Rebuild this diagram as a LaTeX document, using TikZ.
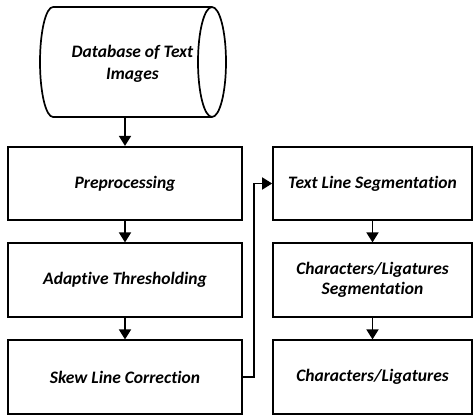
\documentclass[tikz,border=0pt]{standalone}
\usepackage{fontspec}
\setmainfont[Ligatures=NoCommon]{Carlito}
\usetikzlibrary{arrows.meta}
\begin{document}
\begin{tikzpicture}[x=1pt,y=-1pt,
  line width=1.7pt,
  box/.style={draw, rectangle, minimum width=234pt, minimum height=73.5pt, inner sep=0pt, align=center, font=\fontsize{17.5}{20.5}\selectfont\bfseries\itshape},
  flow/.style={-{Triangle[length=10pt,width=12pt]}, line width=1.7pt}]
\useasboundingbox (0,0) rectangle (473,415);
% database
\node[minimum width=159pt, minimum height=110pt, inner sep=0pt, align=center, font=\fontsize{17.5}{22}\selectfont\bfseries\itshape] (db) at (132.5,64) {Database of Text\\Images};
\draw (53,7) -- (212,7)
      arc[start angle=90, end angle=-90, x radius=14pt, y radius=55pt]
      arc[start angle=270, end angle=90, x radius=14pt, y radius=55pt]
      (212,117) -- (53,117)
      arc[start angle=270, end angle=90, x radius=13pt, y radius=55pt];
% left column
\node[box] (pre) at (125,183.5) {Preprocessing};
\node[box] (thr) at (125,280) {Adaptive Thresholding};
\node[box] (skew) at (125,377) {Skew Line Correction};
% right column
\node[box, minimum width=199pt] (tls) at (372.5,183.5) {Text Line Segmentation};
\node[box, minimum width=199pt] (cls) at (372.5,280) {Characters/Ligatures\\Segmentation};
\node[box, minimum width=199pt] (cl) at (372.5,377) {Characters/Ligatures};
% connectors
\draw[flow] (125,117) -- (pre.north);
\draw[flow] (pre) -- (thr);
\draw[flow] (thr) -- (skew);
\draw[flow] (skew.east) -- ++(11,0) |- (tls.west);
\draw[flow] (tls) -- (cls);
\draw[flow] (cls) -- (cl);
\end{tikzpicture}
\end{document}
